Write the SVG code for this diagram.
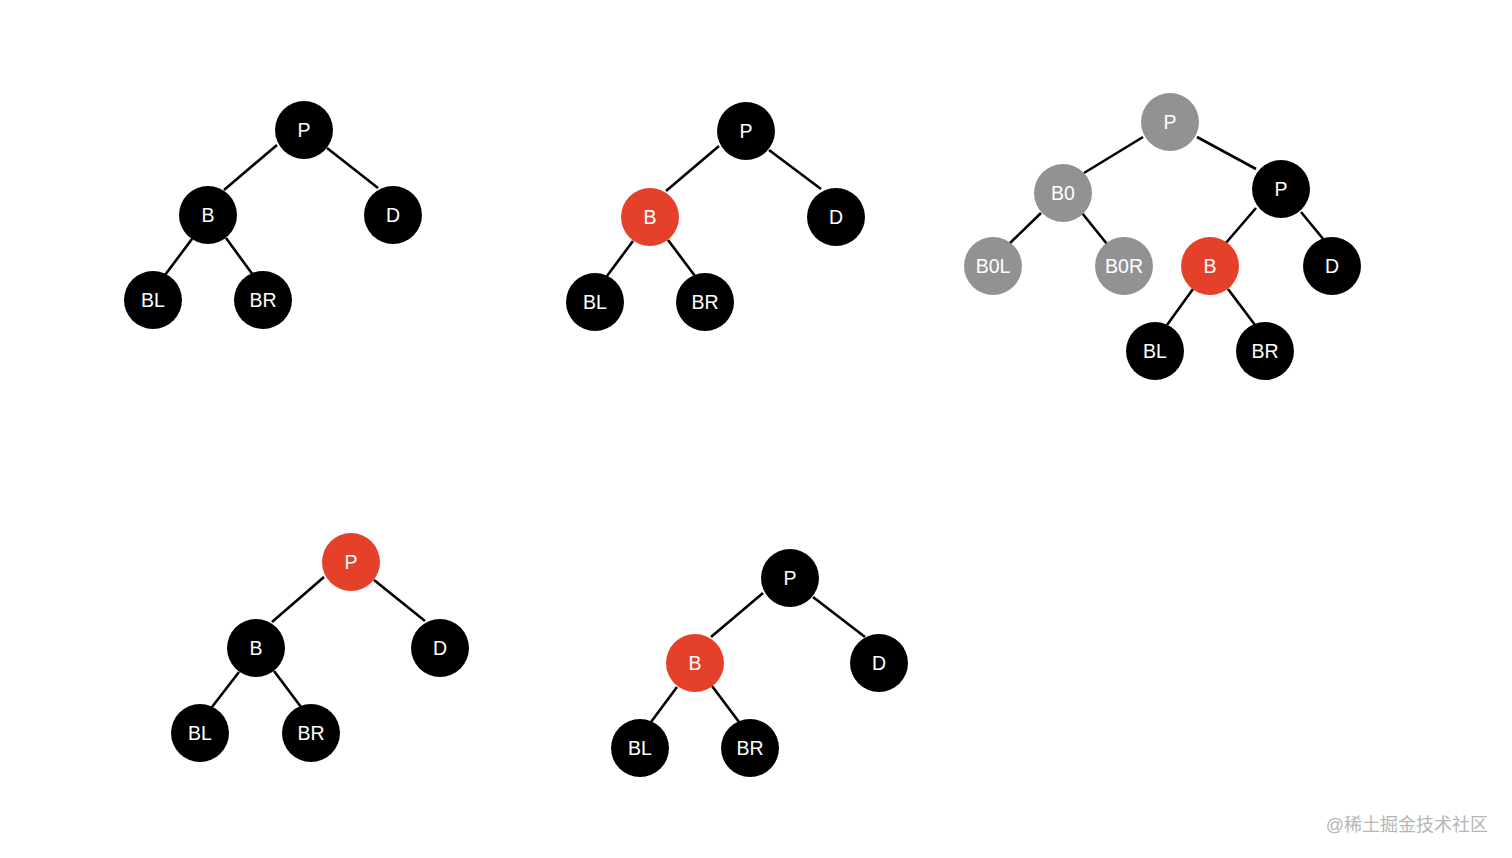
<svg xmlns="http://www.w3.org/2000/svg" width="1512" height="858" viewBox="0 0 1512 858">
<style>
.n{fill:#000}
.r{fill:#E5412A}
.g{fill:#929292}
text{font-family:"Liberation Sans",Arial,sans-serif;font-size:19.5px;fill:#fff;text-anchor:middle;dominant-baseline:central}
#edges line{stroke:#000;stroke-width:2.6;stroke-linecap:butt}
.wm{font-family:"Liberation Sans","Noto Sans CJK SC",sans-serif;font-size:18px;fill:#b5b5b5;text-anchor:end;dominant-baseline:auto}
</style>
<rect width="1512" height="858" fill="#fff"/>
<g id="edges">
<line x1="277" y1="145" x2="224" y2="190"/><line x1="327" y1="148" x2="378" y2="188"/>
<line x1="192" y1="239" x2="165" y2="275"/><line x1="226" y1="238" x2="253" y2="275"/>

<line x1="719" y1="146" x2="666" y2="191"/><line x1="769" y1="150" x2="821" y2="189"/>
<line x1="633" y1="241" x2="607" y2="276"/><line x1="668" y1="240" x2="695" y2="276"/>

<line x1="1143" y1="137" x2="1084" y2="173"/><line x1="1197" y1="137" x2="1256" y2="169"/>
<line x1="1041" y1="213" x2="1009" y2="244"/><line x1="1082" y1="213" x2="1107" y2="244"/>
<line x1="1256" y1="208" x2="1225" y2="244"/><line x1="1301" y1="212" x2="1324" y2="240"/>
<line x1="1193" y1="289" x2="1167" y2="325"/><line x1="1228" y1="289" x2="1255" y2="325"/>

<line x1="324" y1="577" x2="272" y2="622"/><line x1="374" y1="580" x2="425" y2="621"/>
<line x1="239" y1="672" x2="212" y2="707"/><line x1="274" y1="671" x2="301" y2="707"/>

<line x1="763" y1="593" x2="711" y2="637"/><line x1="813" y1="597" x2="865" y2="637"/>
<line x1="677" y1="687" x2="651" y2="722"/><line x1="712" y1="686" x2="739" y2="722"/>
</g>
<g id="t1-P"><circle class="n" cx="304" cy="130" r="29"/><text x="304" y="130">P</text></g>
<g id="t1-B"><circle class="n" cx="208" cy="215" r="29"/><text x="208" y="215">B</text></g>
<g id="t1-D"><circle class="n" cx="393" cy="215" r="29"/><text x="393" y="215">D</text></g>
<g id="t1-BL"><circle class="n" cx="153" cy="300" r="29"/><text x="153" y="300">BL</text></g>
<g id="t1-BR"><circle class="n" cx="263" cy="300" r="29"/><text x="263" y="300">BR</text></g>

<g id="t2-P"><circle class="n" cx="746" cy="131" r="29"/><text x="746" y="131">P</text></g>
<g id="t2-B"><circle class="r" cx="650" cy="217" r="29"/><text x="650" y="217">B</text></g>
<g id="t2-D"><circle class="n" cx="836" cy="217" r="29"/><text x="836" y="217">D</text></g>
<g id="t2-BL"><circle class="n" cx="595" cy="302" r="29"/><text x="595" y="302">BL</text></g>
<g id="t2-BR"><circle class="n" cx="705" cy="302" r="29"/><text x="705" y="302">BR</text></g>

<g id="t3-P0"><circle class="g" cx="1170" cy="122" r="29"/><text x="1170" y="122">P</text></g>
<g id="t3-B0"><circle class="g" cx="1063" cy="193" r="29"/><text x="1063" y="193">B0</text></g>
<g id="t3-P"><circle class="n" cx="1281" cy="189" r="29"/><text x="1281" y="189">P</text></g>
<g id="t3-B0L"><circle class="g" cx="993" cy="266" r="29"/><text x="993" y="266">B0L</text></g>
<g id="t3-B0R"><circle class="g" cx="1124" cy="266" r="29"/><text x="1124" y="266">B0R</text></g>
<g id="t3-B"><circle class="r" cx="1210" cy="266" r="29"/><text x="1210" y="266">B</text></g>
<g id="t3-D"><circle class="n" cx="1332" cy="266" r="29"/><text x="1332" y="266">D</text></g>
<g id="t3-BL"><circle class="n" cx="1155" cy="351" r="29"/><text x="1155" y="351">BL</text></g>
<g id="t3-BR"><circle class="n" cx="1265" cy="351" r="29"/><text x="1265" y="351">BR</text></g>

<g id="t4-P"><circle class="r" cx="351" cy="562" r="29"/><text x="351" y="562">P</text></g>
<g id="t4-B"><circle class="n" cx="256" cy="648" r="29"/><text x="256" y="648">B</text></g>
<g id="t4-D"><circle class="n" cx="440" cy="648" r="29"/><text x="440" y="648">D</text></g>
<g id="t4-BL"><circle class="n" cx="200" cy="733" r="29"/><text x="200" y="733">BL</text></g>
<g id="t4-BR"><circle class="n" cx="311" cy="733" r="29"/><text x="311" y="733">BR</text></g>

<g id="t5-P"><circle class="n" cx="790" cy="578" r="29"/><text x="790" y="578">P</text></g>
<g id="t5-B"><circle class="r" cx="695" cy="663" r="29"/><text x="695" y="663">B</text></g>
<g id="t5-D"><circle class="n" cx="879" cy="663" r="29"/><text x="879" y="663">D</text></g>
<g id="t5-BL"><circle class="n" cx="640" cy="748" r="29"/><text x="640" y="748">BL</text></g>
<g id="t5-BR"><circle class="n" cx="750" cy="748" r="29"/><text x="750" y="748">BR</text></g>

<text class="wm" x="1488" y="831">@稀土掘金技术社区</text>
</svg>
